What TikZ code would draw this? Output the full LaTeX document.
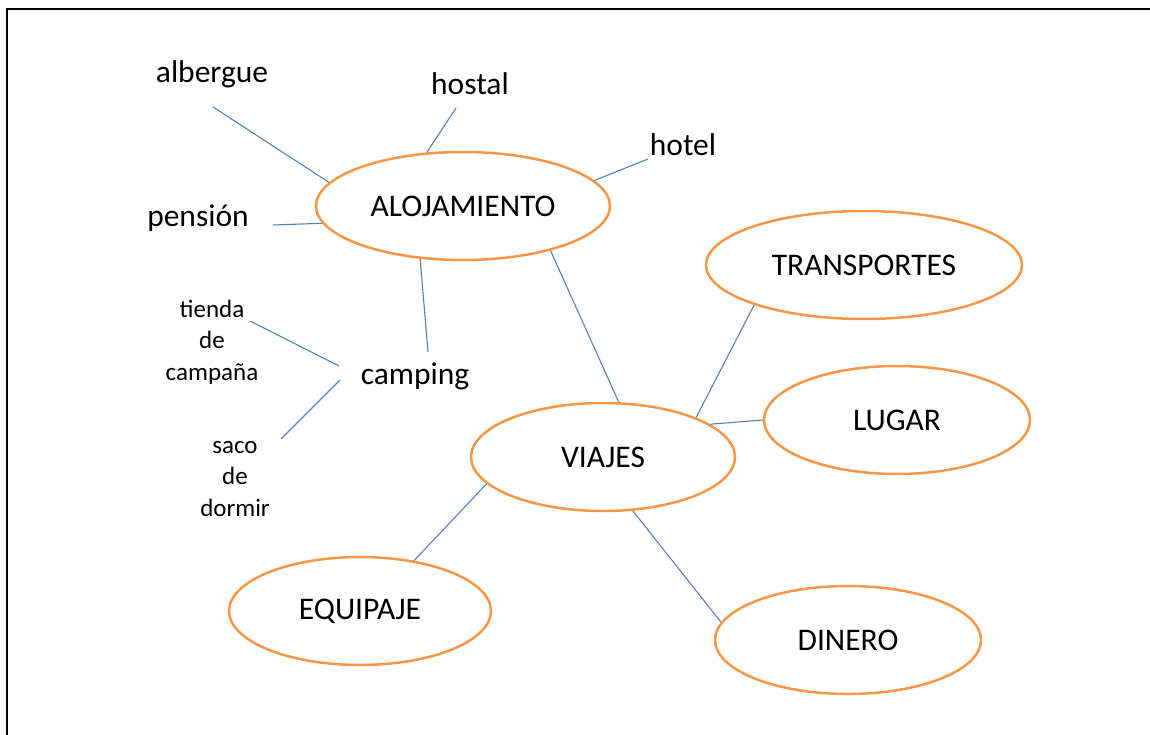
\documentclass[tikz,border=0pt]{standalone}
\usepackage{fontspec}
\setmainfont{Carlito}
\usetikzlibrary{shapes.geometric}
\definecolor{bubbleorange}{HTML}{F79646}
\definecolor{linkblue}{HTML}{4F81BD}

\begin{document}
\begin{tikzpicture}[x=1pt, y=-1pt,
        bubble/.style={ellipse, draw=bubbleorange, line width=2.5pt, inner sep=0pt,
            minimum height=108pt, font=\fontsize{31.5}{36}\selectfont},
        word/.style={inner sep=0pt, font=\fontsize{31.5}{36}\selectfont},
        smallword/.style={inner sep=0pt, align=center,
            font=\fontsize{25}{31.5}\selectfont},
        link/.style={draw=linkblue, line width=1.1pt}]
        \useasboundingbox (0,0) rectangle (1150,735);
        \draw [line width=2pt] (7,735) -- (7,9) -- (1150,9);
        \node [bubble, minimum width=294pt] (aloj) at (463,206) {ALOJAMIENTO};
        \node [bubble, minimum width=264pt] (viajes) at (603,457) {VIAJES};
        \node [bubble, minimum width=316pt] (transp) at (864,265) {TRANSPORTES};
        \node [bubble, minimum width=266pt] (lugar) at (897,420) {LUGAR};
        \node [bubble, minimum width=262pt] (equipaje) at (360,611) {EQUIPAJE};
        \node [bubble, minimum width=266pt] (dinero) at (848,640) {DINERO};
        \node [word] (albergue) at (212,74) {albergue};
        \node [word] (hostal) at (470,84) {hostal};
        \node [word] (hotel) at (683,145) {hotel};
        \node [word] (pension) at (198,218) {pensión};
        \node [word] (camping) at (415,376) {camping};
        \node [smallword] (tienda) at (212,342) {tienda\\de\\campaña};
        \node [smallword] (saco) at (235,479) {saco\\de\\dormir};
        \draw [link] ([shift={(1,33)}]albergue.center) -- (aloj.170);
        \draw [link] ([shift={(-14,24)}]hostal.center) -- (aloj.124);
        \draw [link] ([shift={(-35,14)}]hotel.center) -- (aloj.11);
        \draw [link] ([shift={(75,7)}]pension.center) -- (aloj.187);
        \draw [link] ([shift={(13,-24)}]camping.center) -- (aloj.231);
        \draw [link] ([shift={(38,-21)}]tienda.center)
            -- ([shift={(-76,-10)}]camping.center);
        \draw [link] ([shift={(46,-40)}]saco.center)
            -- ([shift={(-75,4)}]camping.center);
        \draw [link] (aloj.333) -- (viajes.74);
        \draw [link] (viajes.23) -- (transp.200);
        \draw [link] (viajes.17) -- (lugar.180);
        \draw [link] (viajes.193) -- (equipaje.43);
        \draw [link] (viajes.299) -- (dinero.172);
    \end{tikzpicture}
\end{document}
